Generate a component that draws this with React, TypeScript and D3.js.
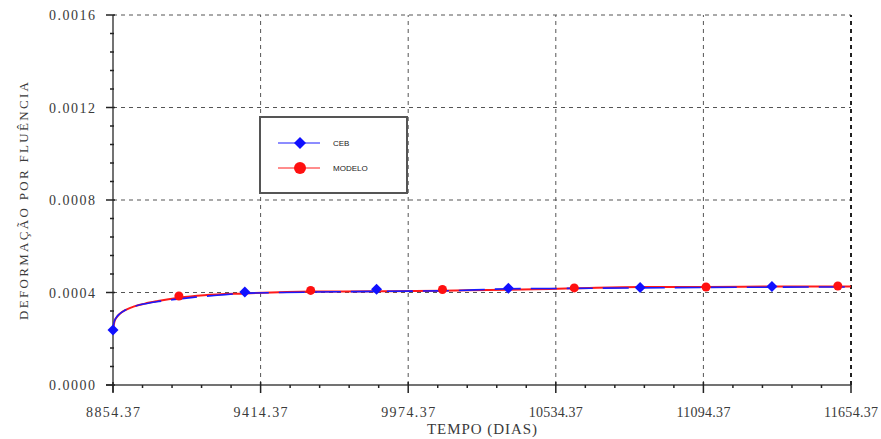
import React from "react";
import * as d3 from "d3";

const xTicks = [8854.37, 9414.37, 9974.37, 10534.37, 11094.37, 11654.37];
const yTicks = [0, 0.0004, 0.0008, 0.0012, 0.0016];

// CEB curve (blue)
const cebCurveT = [8854.37, 8858, 8866, 8880, 8900, 8930, 8970, 9020, 9080, 9150, 9250, 9354.37, 9500, 9700, 9854.37, 10100, 10354.37, 10600, 10854.37, 11100, 11354.37, 11654.37];
const cebCurveV = [0.000238, 0.00027, 0.00029, 0.000308, 0.000323, 0.000338, 0.00035, 0.00036, 0.000369, 0.000378, 0.000388, 0.000397, 0.000400, 0.000403, 0.000405, 0.000407, 0.000416, 0.000418, 0.00042, 0.000422, 0.000423, 0.000424];
const cebMarkT = [8854.37, 9354.37, 9854.37, 10354.37, 10854.37, 11354.37];
const cebMarkV = [0.000238, 0.000402, 0.000414, 0.000418, 0.000422, 0.000426];

// MODELO curve (red)
const modCurveT = [8854.37, 8860, 8870, 8885, 8905, 8935, 8975, 9025, 9104.37, 9200, 9354.37, 9604.37, 9854.37, 10104.37, 10354.37, 10604.37, 10854.37, 11104.37, 11354.37, 11654.37];
const modCurveV = [0.000238, 0.000275, 0.000295, 0.000312, 0.000326, 0.00034, 0.000352, 0.000363, 0.000377, 0.000388, 0.000396, 0.000404, 0.000405, 0.000408, 0.000412, 0.000418, 0.000424, 0.000424, 0.000426, 0.000426];
const modMarkT = [9104.37, 9604.37, 10104.37, 10604.37, 11104.37, 11604.37];
const modMarkV = [0.000385, 0.000409, 0.000413, 0.00042, 0.000424, 0.000428];

const legendLabels = ["CEB", "MODELO"];

const SERIF = "Liberation Serif";
const SANS = "Liberation Sans";

export default function App() {
  const W = 881, H = 439;
  const x = d3.scaleLinear().domain([8854.37, 11654.37]).range([113, 851]);
  const y = d3.scaleLinear().domain([0, 0.0016]).range([385, 15]);
  const line = d3.line<[number, number]>().x(d => x(d[0])).y(d => y(d[1])).curve(d3.curveMonotoneX);
  const ceb = cebCurveT.map((t, i) => [t, cebCurveV[i]] as [number, number]);
  const mod = modCurveT.map((t, i) => [t, modCurveV[i]] as [number, number]);

  const xMinor: number[] = [];
  for (let i = 0; i < xTicks.length - 1; i++) {
    for (let k = 1; k < 5; k++) xMinor.push(xTicks[i] + (xTicks[i + 1] - xTicks[i]) * k / 5);
  }
  const yMinor: number[] = [];
  for (let i = 0; i < yTicks.length - 1; i++) {
    for (let k = 1; k < 5; k++) yMinor.push(yTicks[i] + (yTicks[i + 1] - yTicks[i]) * k / 5);
  }
  const grid = "#555";
  const axisCol = "#444";
  const diamond = (cx: number, cy: number, r: number) => `M${cx},${cy - r}L${cx + r},${cy}L${cx},${cy + r}L${cx - r},${cy}Z`;

  return (
    <svg width={W} height={H} style={{ position: "absolute", left: 0, top: 0, background: "#fff" }}>
      <rect width={W} height={H} fill="#fff" />
      {/* grid */}
      {yTicks.slice(1).map(v => (
        <line key={"gy" + v} x1={x.range()[0]} x2={x.range()[1]} y1={y(v)} y2={y(v)} stroke={grid} strokeWidth={1} strokeDasharray="4,4" />
      ))}
      {xTicks.slice(1).map((v, i) => (
        <line key={"gx" + v} x1={x(v)} x2={x(v)} y1={y(0)} y2={y(0.0016)} stroke={i === 4 ? "#222" : grid} strokeWidth={i === 4 ? 2 : 1} strokeDasharray="4,4" />
      ))}
      {/* axes */}
      <line x1={x.range()[0]} x2={x.range()[0]} y1={y(0.0016)} y2={y(0) + 7} stroke={axisCol} strokeWidth={1.5} />
      <line x1={x.range()[0] - 7} x2={x.range()[1]} y1={y(0)} y2={y(0)} stroke={axisCol} strokeWidth={1.5} />
      {xTicks.map(v => (
        <line key={"xt" + v} x1={x(v)} x2={x(v)} y1={y(0) - 3} y2={y(0) + 8} stroke="#222" strokeWidth={1.5} />
      ))}
      {xMinor.map(v => (
        <line key={"xm" + v} x1={x(v)} x2={x(v)} y1={y(0)} y2={y(0) + 3} stroke="#222" strokeWidth={1.5} />
      ))}
      {yTicks.map(v => (
        <line key={"yt" + v} x1={x.range()[0] - 7} x2={x.range()[0] + 2} y1={y(v)} y2={y(v)} stroke="#222" strokeWidth={1.5} />
      ))}
      {yMinor.map(v => (
        <line key={"ym" + v} x1={x.range()[0] - 3} x2={x.range()[0] + 1} y1={y(v)} y2={y(v)} stroke="#222" strokeWidth={1.5} />
      ))}
      <g fontFamily={SERIF} fill="#3a3a3a">
        {yTicks.map(v => (
          <text key={"yl" + v} x={49} y={y(v) + 5} fontSize="14px" textLength={46} lengthAdjust="spacing">{v.toFixed(4)}</text>
        ))}
        {xTicks.map(v => (
          <text key={"xl" + v} x={x(v) - 27} y={417} fontSize="14px" textLength={54} lengthAdjust="spacing">{v.toFixed(2)}</text>
        ))}
        <text x={427} y={434} fontSize="15px" textLength={110} lengthAdjust="spacing">TEMPO (DIAS)</text>
        <text transform="translate(28,320) rotate(-90)" fontSize="13px" textLength={238} lengthAdjust="spacing">DEFORMAÇÃO POR FLUÊNCIA</text>
      </g>

      {/* curves */}
      <path d={line(mod) || ""} fill="none" stroke="#ff1a1a" strokeWidth={2} />
      <path d={line(ceb) || ""} fill="none" stroke="#1a1aff" strokeWidth={1.6} strokeDasharray="26,10" />
      {modMarkT.map((t, i) => (
        <circle key={"mm" + i} cx={x(t)} cy={y(modMarkV[i])} r={4.5} fill="#ff1010" />
      ))}
      {cebMarkT.map((t, i) => (
        <path key={"cm" + i} d={diamond(x(t), y(cebMarkV[i]), 5.5)} fill="#1010ff" />
      ))}

      {/* legend */}
      <rect x={260} y={117} width={147} height={76} fill="#fff" stroke="#555" strokeWidth={2} />
      <line x1={278} x2={320} y1={143} y2={143} stroke="#1a1aff" strokeWidth={1} />
      <path d={diamond(300, 143, 6)} fill="#1010ff" />
      <line x1={278} x2={320} y1={168} y2={168} stroke="#ff1a1a" strokeWidth={1} />
      <circle cx={300} cy={168} r={6} fill="#ff1010" />
      {legendLabels.map((l, i) => (
        <text key={l} x={333} y={146 + i * 25} fontSize="8px" fontFamily={SANS} fill="#222">{l}</text>
      ))}
    </svg>
  );
}
